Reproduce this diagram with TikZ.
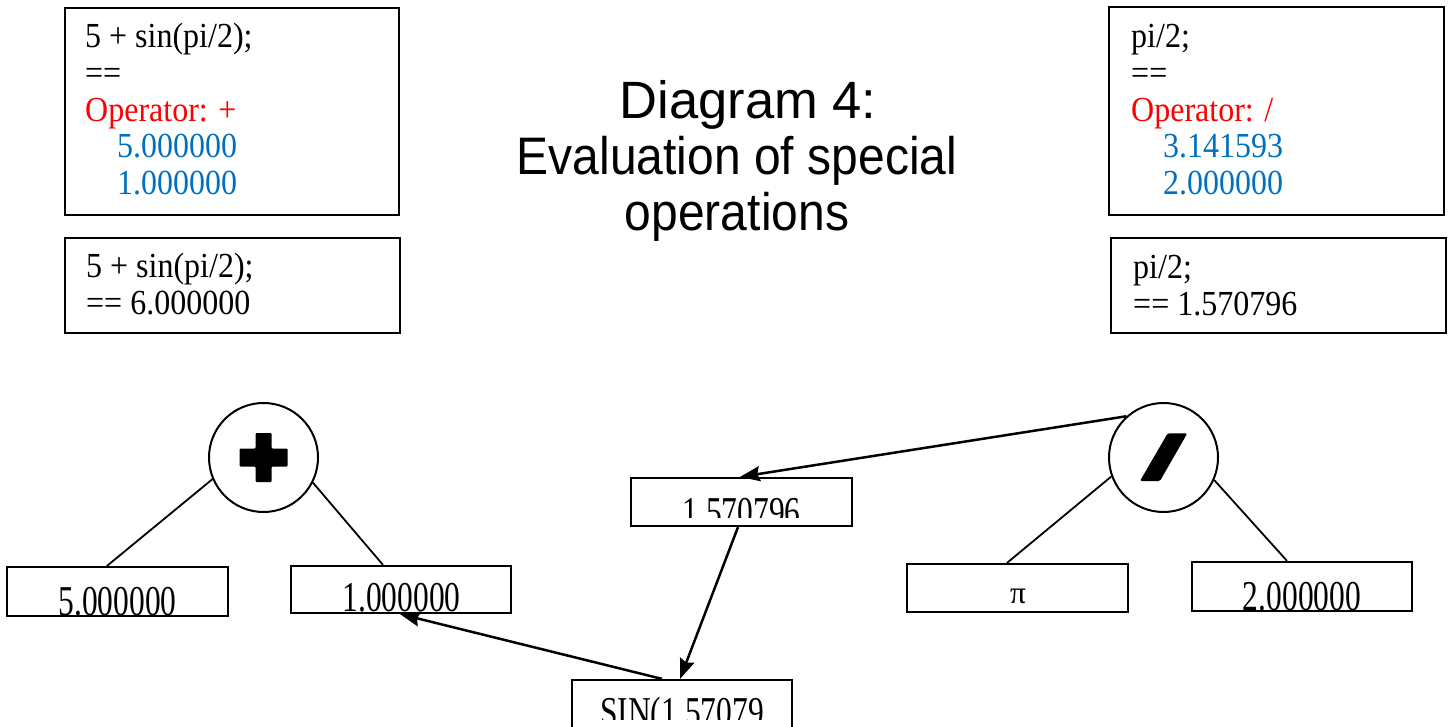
\documentclass[tikz,border=0pt]{standalone}
\usepackage{graphicx}
\usepackage{fontspec}
\setmainfont{Liberation Serif}
\newfontfamily\headfont{Liberation Sans}
\usetikzlibrary{arrows.meta}
\definecolor{opred}{RGB}{255,0,0}
\definecolor{valblue}{RGB}{0,112,192}
% slightly tall lettering used throughout
\newcommand\stretched[2]{\scalebox{1}[#1]{#2}}
\newcommand\codeblock[2]{\stretched{1.1}{\vtop{\baselineskip=#1\relax #2}}}

\begin{document}
\begin{tikzpicture}[x=1pt,y=-1pt,
  frame/.style={draw, rectangle, line width=2.2pt, inner sep=0pt},
  opnode/.style={draw, circle, line width=2pt, minimum size=109pt, inner sep=0pt},
  link/.style={line width=1.8pt},
  flow/.style={line width=2.5pt, -{Stealth[length=20pt,width=15pt,inset=2.5pt]}},
  codetext/.style={anchor=base west, inner sep=0pt, font=\fontsize{32}{36}\selectfont},
  valtext/.style={anchor=base, inner sep=0pt, font=\fontsize{31.5}{36}\selectfont},
  titletext/.style={anchor=base, inner sep=0pt, font=\headfont\fontsize{48}{56}\selectfont}]

\useasboundingbox (0,0) rectangle (1449,727);
\fill[white] (0,0) rectangle (1449,727);
\clip (0,0) rectangle (1449,727);

% ---------- title ----------
\node[titletext, font=\headfont\fontsize{52.5}{56}\selectfont] (h1) at (748,119) {Diagram 4:};
\node[titletext] (h2) at (737,175) {\stretched{1.1}{Evaluation of special}};
\node[titletext] (h3) at (737,231) {\stretched{1.1}{operations}};

% ---------- console panels ----------
\node[frame, minimum width=334pt, minimum height=207pt] (pA) at (232,111.5) {};
\node[frame, minimum width=335pt, minimum height=95pt] (pB) at (232.5,285.5) {};
\node[frame, minimum width=335pt, minimum height=208pt] (pC) at (1276.5,111) {};
\node[frame, minimum width=335pt, minimum height=95pt] (pD) at (1278.5,285.5) {};

\node[codetext] (cA) at (85,48) {\codeblock{33.3pt}{%
  \hbox{5 + sin(pi/2);}\hbox{==}\hbox{\color{opred}Operator: +}%
  \hbox{\hspace{32pt}\color{valblue}5.000000}\hbox{\hspace{32pt}\color{valblue}1.000000}}};
\node[codetext] (cB) at (86,278) {\codeblock{33.6pt}{%
  \hbox{5 + sin(pi/2);}\hbox{== 6.000000}}};
\node[codetext] (cC) at (1131,48) {\codeblock{33.3pt}{%
  \hbox{pi/2;}\hbox{==}\hbox{\color{opred}Operator: /}%
  \hbox{\hspace{32pt}\color{valblue}3.141593}\hbox{\hspace{32pt}\color{valblue}2.000000}}};
\node[codetext] (cD) at (1133,279) {\codeblock{33pt}{%
  \hbox{pi/2;}\hbox{== 1.570796}}};

% ---------- operator nodes ----------
\node[opnode] (plus) at (263.5,457.5) {};
\begin{scope}[shift={(plus.center)}]
  \fill[rounded corners=1pt] (-8,-24.5) -- (8,-24.5) -- (8,-9) -- (24,-9) -- (24,9)
    -- (8,9) -- (8,24.5) -- (-8,24.5) -- (-8,9) -- (-24,9) -- (-24,-9) -- (-8,-9) -- cycle;
\end{scope}

\node[opnode] (slash) at (1163.5,457.5) {};
\begin{scope}[shift={(slash.center)}]
  \fill[rounded corners=1.5pt] (4.2,-24.2) -- (23.8,-24.2) -- (-3.5,23.5) -- (-23.5,23.5) -- cycle;
\end{scope}

% ---------- value boxes ----------
\node[frame, minimum width=221pt, minimum height=49pt] (v5)  at (117.5,591.5) {};
\node[frame, minimum width=220pt, minimum height=47pt] (v1)  at (401,589.5) {};
\node[frame, minimum width=221pt, minimum height=48pt] (vh)  at (741.5,502) {};
\node[frame, minimum width=221pt, minimum height=48pt] (vpi) at (1017.5,588) {};
\node[frame, minimum width=220pt, minimum height=49pt] (v2)  at (1302,586.5) {};
\node[frame, minimum width=220pt, minimum height=60pt] (sin) at (682,710) {};

\begin{scope}
  \clip (v5.north west) rectangle ([yshift=3pt]v5.south east);
  \node[valtext] (t5) at (117.5,615.7) {\stretched{1.35}{5.000000}};
\end{scope}
\begin{scope}
  \clip (v1.north west) rectangle ([yshift=2pt]v1.south east);
  \node[valtext] (t1) at (401.5,611.7) {\stretched{1.35}{1.000000}};
\end{scope}
\begin{scope}
  \clip (vh.north west) rectangle ([yshift=10pt]vh.south east);
  \node[valtext] (th) at (741.5,526) {\stretched{1.35}{1.570796}};
\end{scope}
\begin{scope}
  \clip (v2.north west) rectangle ([yshift=3pt]v2.south east);
  \node[valtext] (t2) at (1302,610.7) {\stretched{1.35}{2.000000}};
\end{scope}
\begin{scope}
  \clip (sin.north west) rectangle ([yshift=22pt]sin.south east);
  \node[valtext] (ts) at (682,726.4) {\stretched{1.35}{SIN(1.57079}};
\end{scope}
\node[valtext] (tpi) at (1018,603) {π};

% ---------- tree edges ----------
\draw[link] (plus.203.7) -- ([xshift=-10.5pt]v5.north);
\draw[link] (plus.333) -- ([xshift=-18pt]v1.north);
\draw[link] (slash.200.4) -- ([xshift=-10.5pt]vpi.north);
\draw[link] (slash.336.4) -- ([xshift=-15pt]v2.north);

% ---------- evaluation flow ----------
\draw[flow] (slash.132.7) -- ([xshift=-1.5pt]vh.north);
\draw[flow] ([xshift=-3.5pt]vh.south) -- ([xshift=-2pt]sin.north);
\draw[flow] ([xshift=-20pt]sin.north) -- ([xshift=-1pt]v1.south);
\end{tikzpicture}
\end{document}
